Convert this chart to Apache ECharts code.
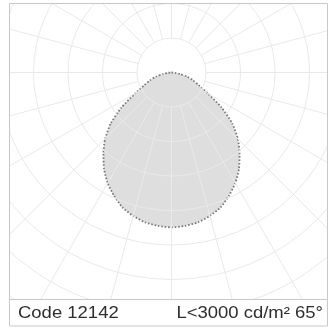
<!DOCTYPE html>
<html>
<head>
<meta charset="utf-8">
<script src="https://cdn.jsdelivr.net/npm/echarts@6/dist/echarts.min.js"></script>
<style>
html,body{margin:0;padding:0;background:#fff;}
#chart{width:329px;height:331px;}
</style>
</head>
<body>
<div id="chart"></div>
<script>
// Gamma angles (degrees from nadir) and luminous intensity values (cd/klm), symmetric curve
var gammaAngles = [0, 5, 10, 15, 20, 25, 30, 35, 40, 45, 50, 55, 60, 65, 70, 75, 80, 85, 90];
var intensity   = [449, 446, 441, 430, 416, 394, 370, 341, 307, 272, 230, 177, 122, 87, 66, 47, 25, 10, 0];
// Grid circles (cd/klm)
var circleMin = 100, circleMax = 900, circleStep = 100;
var codeLabel = 'Code 12142';
var infoLabel = 'L<3000 cd/m² 65°';

var curve = [];
for (var i = gammaAngles.length - 1; i > 0; i--) {
  curve.push([intensity[i], 360 - gammaAngles[i]]);
}
for (var j = 0; j < gammaAngles.length; j++) {
  curve.push([intensity[j], gammaAngles[j]]);
}

var cx = 171.5, cy = 72.5, pxPerStep = 34.5;
var outerR = pxPerStep * (circleMax / circleStep);
var innerR = pxPerStep * (circleMin / circleStep);

var chart = echarts.init(document.getElementById('chart'), null, {renderer: 'canvas'});
var hiddenAxis = {axisLine:{show:false}, axisTick:{show:false}, axisLabel:{show:false}, splitLine:{show:false}, splitArea:{show:false}};
var gridLine = {show:true, lineStyle:{color:'#e9e9e9', width:1}};
var textFont = '16.5px "Liberation Sans", Arial, sans-serif';
chart.setOption({
  animation: false,
  backgroundColor: '#ffffff',
  polar: [
    {center:[cx, cy], radius:[innerR, outerR]},
    {center:[cx, cy], radius:[0, outerR]}
  ],
  angleAxis: [
    Object.assign({}, hiddenAxis, {polarIndex:0, type:'value', min:0, max:360, interval:15, startAngle:90, zlevel:1, splitLine:gridLine}),
    Object.assign({}, hiddenAxis, {polarIndex:1, type:'value', min:0, max:360, startAngle:270, clockwise:true})
  ],
  radiusAxis: [
    Object.assign({}, hiddenAxis, {polarIndex:0, type:'value', min:circleMin, max:circleMax, interval:circleStep, zlevel:1, splitLine:gridLine}),
    Object.assign({}, hiddenAxis, {polarIndex:1, type:'value', min:0, max:circleMax})
  ],
  series: [{
    type:'line',
    coordinateSystem:'polar',
    polarIndex:1,
    data: curve,
    symbol:'none',
    smooth:0.2,
    zlevel:0,
    lineStyle:{color:'#7a7a7a', width:1.8, type:[1.6,1.8]},
    areaStyle:{color:'#dedede', opacity:1}
  }],
  graphic: [
    {type:'rect', zlevel:2, shape:{x:0, y:0, width:9.5, height:331}, style:{fill:'#fff'}},
    {type:'rect', zlevel:2, shape:{x:0, y:0, width:329, height:3.5}, style:{fill:'#fff'}},
    {type:'rect', zlevel:2, shape:{x:328, y:0, width:2, height:331}, style:{fill:'#fff'}},
    {type:'rect', zlevel:2, shape:{x:0, y:299.5, width:329, height:32}, style:{fill:'#fff'}},
    {type:'rect', zlevel:2, z:1, shape:{x:9.5, y:3.5, width:318, height:322.5}, style:{fill:null, stroke:'#c8c8c8', lineWidth:1}},
    {type:'line', zlevel:2, z:1, shape:{x1:9.5, y1:299.5, x2:327.5, y2:299.5}, style:{stroke:'#c8c8c8', lineWidth:1}},
    {type:'text', zlevel:2, z:2, x:18, y:313, scaleX:1.12, originX:0, originY:0, style:{text:codeLabel, fill:'#2e2e2e', font:textFont, textAlign:'left', textVerticalAlign:'middle'}},
    {type:'text', zlevel:2, z:2, x:323, y:313, scaleX:1.12, originX:0, originY:0, style:{text:infoLabel, fill:'#2e2e2e', font:textFont, textAlign:'right', textVerticalAlign:'middle'}}
  ]
});
</script>
</body>
</html>
